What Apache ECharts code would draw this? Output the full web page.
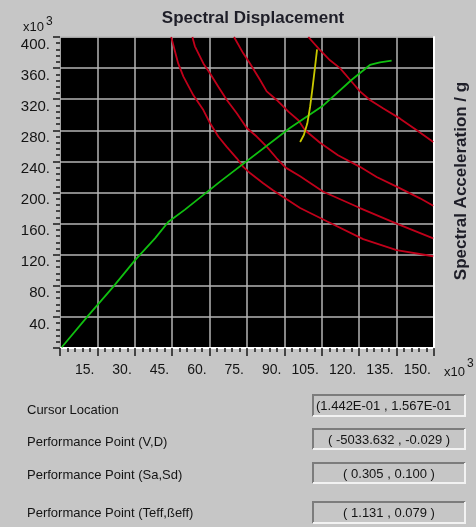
<!DOCTYPE html>
<html><head><meta charset="utf-8">
<script src="https://cdn.jsdelivr.net/npm/echarts@6/dist/echarts.min.js"></script>
<style>html,body{margin:0;padding:0;background:#c6c6c6}#c{width:476px;height:527px}</style>
</head><body><div id="c"></div>
<script>
// ---- data (x: spectral displacement x10^3, y: spectral acceleration x10^3) ----
const xMin = 0, xMax = 150, xStep = 15;
const yMin = 0, yMax = 400, yStep = 40;

const capacityCurve = [[0.7,1],[11.4,42],[21.4,79],[30.1,113],[38.1,141],[43.4,162],[50.1,178],[64.2,214],[92.2,283],[105.6,312],[117.0,345],[124.3,364],[128.3,367.5],[133.0,369.5]];
const demandCurve1 = [[44.6,400],[47.4,366],[49.5,349],[53.5,325],[57.5,306],[60.2,289],[63.5,272],[66.8,259],[70.9,244],[73.5,233],[76.2,225],[81.5,212],[85.4,203],[96.3,180],[107.0,163],[121.6,140],[135.0,126],[149.7,118]];
const demandCurve2 = [[53.1,400],[54.1,388],[57.5,366],[60.2,353],[63.5,336],[66.9,319],[70.9,302],[74.9,283],[78.9,272],[82.9,259],[86.9,244],[90.5,232],[96.3,221],[105.6,201],[120.3,180],[135.0,160],[149.7,141]];
const demandCurve3 = [[69.8,400],[73.5,379],[76.2,366],[80.2,345],[82.9,330],[86.9,319],[91.6,304],[95.6,293],[98.3,280],[104.3,264],[111.5,248],[120.3,233],[127.0,220],[135.0,207.5],[144.4,192.5],[149.7,183]];
const demandCurve4 = [[99.6,400],[104.3,383],[108.3,370],[112.3,360],[116.3,345],[120.3,330],[124.3,319],[129.7,308],[136.4,295],[143.1,280],[149.7,265]];
const performanceLine = [[96.3,265],[97.8,274],[99.2,289],[100.3,310],[101.3,335],[102.3,362],[103.1,384]];

const titleText = 'Spectral Displacement';
const sideText = 'Spectral Acceleration / g';
const panelLabels = ['Cursor Location','Performance Point (V,D)','Performance Point (Sa,Sd)','Performance Point (Teff,\u00dfeff)'];
const panelValues = ['(1.442E-01 , 1.567E-01','( -5033.632 , -0.029 )','( 0.305 , 0.100 )','( 1.131 , 0.079 )'];

// ---- layout ----
const FONT = '"Liberation Sans", Arial, sans-serif';
const labelRowsY = [410, 442, 475, 513];
const boxRows = [[395,21],[429,20],[463,20],[502,21]];

function sunkenBox(x, y, w, h, fill, txt, align) {
  return {type:'group', children:[
    {type:'rect', shape:{x:x,y:y,width:w,height:h}, style:{fill:fill}},
    {type:'polyline', shape:{points:[[x,y+h],[x,y],[x+w,y]]}, style:{stroke:'#7c7c7c', lineWidth:2, fill:null}},
    {type:'polyline', shape:{points:[[x+w,y],[x+w,y+h],[x,y+h]]}, style:{stroke:'#f2f2f2', lineWidth:2, fill:null}},
    {type:'text', x: align==='left' ? x+3 : x+w/2, y: y+h/2+1,
     style:{text:txt, textAlign:align, textVerticalAlign:'middle', verticalAlign:'middle', font:'13px ' + FONT, fill:'#141414'}}
  ]};
}

const graphics = [];
graphics.push({type:'text', x:253, y:18, style:{text:titleText, textAlign:'center', textVerticalAlign:'middle', verticalAlign:'middle', font:'bold 17px ' + FONT, fill:'#1e1e28'}});
graphics.push({type:'text', x:461, y:181, rotation:Math.PI/2, style:{text:sideText, textAlign:'center', textVerticalAlign:'middle', verticalAlign:'middle', font:'bold 17px ' + FONT, fill:'#1e1e28'}});
graphics.push({type:'text', x:23, y:27, style:{text:'x10', textVerticalAlign:'middle', verticalAlign:'middle', font:'13px ' + FONT, fill:'#141414'}});
graphics.push({type:'text', x:46, y:22, style:{text:'3', textVerticalAlign:'middle', verticalAlign:'middle', font:'12px ' + FONT, fill:'#141414'}});
graphics.push({type:'text', x:444, y:372, style:{text:'x10', textVerticalAlign:'middle', verticalAlign:'middle', font:'13px ' + FONT, fill:'#141414'}});
graphics.push({type:'text', x:467, y:364, style:{text:'3', textVerticalAlign:'middle', verticalAlign:'middle', font:'12px ' + FONT, fill:'#141414'}});
panelLabels.forEach(function(t, i){
  graphics.push({type:'text', x:27, y:labelRowsY[i], style:{text:t, textVerticalAlign:'middle', verticalAlign:'middle', font:'13px ' + FONT, fill:'#141414'}});
});
panelValues.forEach(function(t, i){
  graphics.push(sunkenBox(313, boxRows[i][0], 152, boxRows[i][1], '#c6c6c6', t, i === 0 ? 'left' : 'center'));
});

function mkLine(data, color, z) {
  return {type:'line', data:data, showSymbol:false, symbol:'none', smooth:false, z:z||2,
    lineStyle:{color:color, width:1.8}, emphasis:{disabled:true}, silent:true};
}

const chart = echarts.init(document.getElementById('c'), null, {renderer:'canvas'});
chart.setOption({
  animation:false,
  backgroundColor:'#c6c6c6',
  grid:{left:60, top:37, right:42, bottom:179, show:true, backgroundColor:'#000', borderColor:'#d6d6d6', borderWidth:1},
  xAxis:{type:'value', min:xMin, max:xMax, interval:xStep,
    axisLine:{show:true, lineStyle:{color:'#ffffff', width:2}},
    axisTick:{show:true, length:8, lineStyle:{color:'#1a1a1a', width:1.5}},
    minorTick:{show:true, splitNumber:5, length:4, lineStyle:{color:'#1a1a1a', width:1.5}},
    splitLine:{show:true, lineStyle:{color:'#b4b4b4', width:1.5}},
    axisLabel:{showMinLabel:false, formatter:function(v){return v + '.';}, align:'right', padding:[0,3,0,0], margin:15,
      fontSize:14, fontFamily:'Liberation Sans', color:'#141414'}},
  yAxis:[{type:'value', min:yMin, max:yMax, interval:yStep,
    axisLine:{show:false},
    axisTick:{show:true, length:7, lineStyle:{color:'#1a1a1a', width:1.5}},
    minorTick:{show:true, splitNumber:5, length:4, lineStyle:{color:'#1a1a1a', width:1.5}},
    splitLine:{show:true, lineStyle:{color:'#b4b4b4', width:1.5}},
    axisLabel:{showMinLabel:false, formatter:function(v){return v + '.';}, verticalAlign:'top', margin:10,
      fontSize:15, fontFamily:'Liberation Sans', color:'#141414'}},
    {type:'value', position:'right', min:yMin, max:yMax, interval:yStep,
    axisLine:{show:true, lineStyle:{color:'#ffffff', width:2}}, axisTick:{show:false}, axisLabel:{show:false}, splitLine:{show:false}}],
  series:[
    mkLine(demandCurve1, '#c0001a'),
    mkLine(demandCurve2, '#c0001a'),
    mkLine(demandCurve3, '#c0001a'),
    mkLine(demandCurve4, '#c0001a'),
    mkLine(capacityCurve, '#10c010', 3),
    mkLine(performanceLine, '#c8c800', 4)
  ],
  graphic:graphics
});
</script></body></html>
